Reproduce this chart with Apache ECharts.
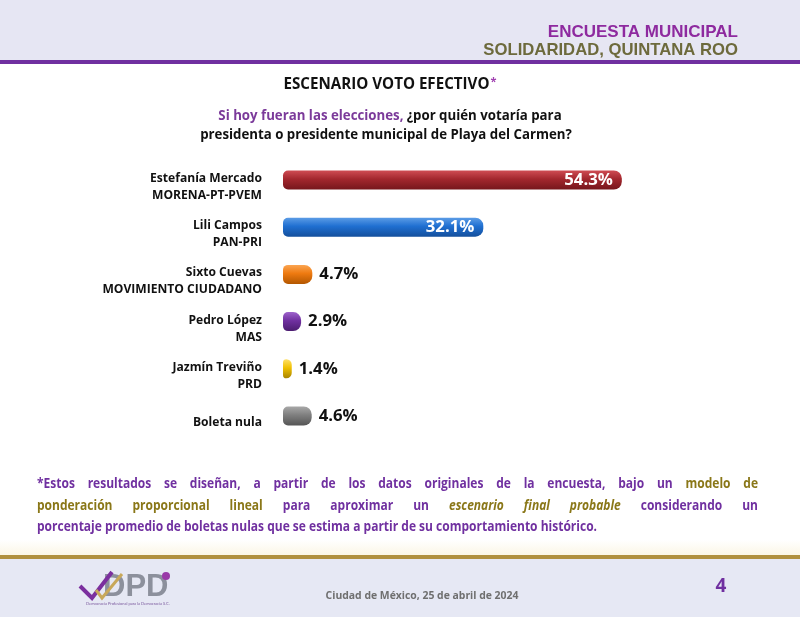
<!DOCTYPE html>
<html><head><meta charset="utf-8">
<script src="https://cdn.jsdelivr.net/npm/echarts@6/dist/echarts.min.js"></script>
<style>html,body{margin:0;padding:0;background:#fff}#c{width:800px;height:617px}</style>
</head><body><div id="c"></div>
<script>
// ---- data ----
const categories = [
  'Estefanía Mercado\nMORENA-PT-PVEM',
  'Lili Campos\nPAN-PRI',
  'Sixto Cuevas\nMOVIMIENTO CIUDADANO',
  'Pedro López\nMAS',
  'Jazmín Treviño\nPRD',
  'Boleta nula'
];
const values = [54.3, 32.1, 4.7, 2.9, 1.4, 4.6];
const headerLines = ['ENCUESTA MUNICIPAL', 'SOLIDARIDAD, QUINTANA ROO'];
const chartTitle = 'ESCENARIO VOTO EFECTIVO';
const questionPurple = 'Si hoy fueran las elecciones,';
const questionRest1 = '¿por quién votaría para';
const questionLine2 = 'presidenta o presidente municipal de Playa del Carmen?';
const footerDate = 'Ciudad de México, 25 de abril de 2024';
const pageNumber = '4';

// ---- styling ----
const barColors = [
  ['#cf4c53', '#a3272e', '#76161c'],
  ['#5b9ce6', '#1f6fd1', '#144f9c'],
  ['#fba552', '#ee7a10', '#b35700'],
  ['#9d62cb', '#7030a0', '#4b1c70'],
  ['#ffe066', '#f0c000', '#a88400'],
  ['#a8a8a8', '#7f7f7f', '#555555']
];
const PURPLE = '#7030a0', OLIVE = '#8a7718';
const FAM = '"Open Sans"';

const mctx = document.createElement('canvas').getContext('2d');
function fontStr(size, it) { return (it ? 'italic ' : '') + 'bold ' + size + 'px ' + FAM; }
function measure(t, size, it) { mctx.font = fontStr(size, it); return mctx.measureText(t).width; }
function fit(t, target) { return +(20 * target / measure(t, 20, false)).toFixed(2); }

const titleSize = fit(chartTitle, 206);
const qSize = fit(questionLine2, 372);
const catSize = fit('MORENA-PT-PVEM', 110);
const valSize = fit('4.7%', 39);
const dateSize = fit(footerDate, 193);

function grad(c) {
  return new echarts.graphic.LinearGradient(0, 0, 0, 1, [
    { offset: 0, color: c[0] }, { offset: 0.45, color: c[1] }, { offset: 1, color: c[2] }
  ]);
}

const chart = echarts.init(document.getElementById('c'), null, { renderer: 'canvas' });

// footnote (justified lines, slightly condensed like the original Calibri)
const footLines = [
  { justify: true, segs: [
    { t: '*Estos resultados se diseñan, a partir de los datos originales de la encuesta, bajo un', c: PURPLE },
    { t: 'modelo de', c: OLIVE } ] },
  { justify: true, segs: [
    { t: 'ponderación proporcional lineal', c: OLIVE },
    { t: 'para aproximar un', c: PURPLE },
    { t: 'escenario final probable', c: OLIVE, it: true },
    { t: 'considerando un', c: PURPLE } ] },
  { justify: false, segs: [
    { t: 'porcentaje promedio de boletas nulas que se estima a partir de su comportamiento histórico.', c: PURPLE } ] }
];
const footY = [484, 506, 527];
const footX0 = 37, footX1 = 758;
const fs = 13.6;
const sx = 560 / measure(footLines[2].segs[0].t, fs, false);
const footEls = [];
footLines.forEach((ln, li) => {
  const words = [];
  ln.segs.forEach(s => s.t.split(' ').forEach(w => words.push({ w, c: s.c, it: !!s.it })));
  const widths = words.map(o => measure(o.w, fs, o.it) * sx);
  const tot = widths.reduce((a, b) => a + b, 0);
  const gap = ln.justify ? (footX1 - footX0 - tot) / (words.length - 1) : measure(' ', fs, false) * sx;
  let x = footX0;
  words.forEach((o, i) => {
    footEls.push({ type: 'text', x: x, y: footY[li], scaleX: sx, silent: true,
      style: { text: o.w, fill: o.c, font: fontStr(fs, o.it), verticalAlign: 'middle' } });
    x += widths[i] + gap;
  });
});

const option = {
  backgroundColor: '#ffffff',
  animation: false,
  grid: { left: 283, top: 156.4, height: 283.2, width: 374.4 },
  xAxis: { type: 'value', min: 0, max: 60, show: false },
  yAxis: {
    type: 'category', inverse: true, data: categories,
    axisLine: { show: false }, axisTick: { show: false },
    axisLabel: {
      interval: 0, margin: 21, align: 'right',
      formatter: v => '{g| }\n' + v.split('\n').map(l => '{a|' + l + '}').join('\n'),
      rich: {
        g: { height: 14, lineHeight: 14, fontSize: 8 },
        a: { color: '#111', fontFamily: 'Open Sans', fontWeight: 'bold', fontSize: catSize, lineHeight: 17, align: 'right' }
      }
    }
  },
  series: [{
    type: 'bar', barWidth: 19,
    data: values.map((v, i) => ({
      value: v,
      itemStyle: { color: grad(barColors[i]), borderRadius: [5, 8, 8, 5] },
      label: v > 20
        ? { position: 'insideRight', color: '#fff', distance: 9 }
        : { position: 'right', color: '#111', distance: 7 }
    })),
    label: { show: true, fontFamily: 'Open Sans', fontWeight: 'bold', fontSize: valSize,
      formatter: p => p.value.toFixed(1) + '%' }
  }],
  graphic: [
    { type: 'rect', shape: { x: 0, y: 0, width: 800, height: 60 }, style: { fill: '#e6e6f3' }, silent: true },
    { type: 'rect', shape: { x: 0, y: 60, width: 800, height: 4 }, style: { fill: '#7030a0' }, silent: true },
    { type: 'text', x: 738, y: 32, style: { text: headerLines[0], fill: '#8e2a9f', font: 'bold 17px "Liberation Sans"', align: 'right', verticalAlign: 'middle' } },
    { type: 'text', x: 738, y: 50, style: { text: headerLines[1], fill: '#6d6a3c', font: 'bold 16.7px "Liberation Sans"', align: 'right', verticalAlign: 'middle' } },
    { type: 'text', x: 390, y: 85, style: {
      text: '{a|' + chartTitle + '}{s|*}', align: 'center', verticalAlign: 'middle', rich: {
        a: { fill: '#111', font: fontStr(titleSize) }, s: { fill: '#a040b0', font: fontStr(11), verticalAlign: 'top', padding: [0, 0, 6, 1] } } } },
    { type: 'text', x: 390, y: 116, style: {
      text: '{p|' + questionPurple + '} {b|' + questionRest1 + '}', align: 'center', verticalAlign: 'middle', rich: {
        p: { fill: '#7b3a9a', font: fontStr(qSize) }, b: { fill: '#111', font: fontStr(qSize) } } } },
    { type: 'text', x: 386, y: 135, style: { text: questionLine2, fill: '#111', font: fontStr(qSize), align: 'center', verticalAlign: 'middle' } },
    ...footEls,
    { type: 'rect', shape: { x: 0, y: 540, width: 800, height: 15 }, style: {
      fill: new echarts.graphic.LinearGradient(0, 0, 0, 1, [{ offset: 0, color: '#ffffff' }, { offset: 1, color: '#fbf6e6' }]) }, silent: true },
    { type: 'rect', shape: { x: 0, y: 555, width: 800, height: 4 }, style: { fill: '#b0903f' }, silent: true },
    { type: 'rect', shape: { x: 0, y: 559, width: 800, height: 58 }, style: { fill: '#e6e8f4' }, silent: true },
    // logo
    { type: 'text', x: 103, y: 587, style: { text: 'DPD', fill: '#8c909c', font: 'bold 31px "Liberation Sans"', verticalAlign: 'middle' } },
    { type: 'polyline', shape: { points: [[80, 586], [92, 598], [112, 572]] }, style: { stroke: '#7b2f9e', lineWidth: 4 }, silent: true },
    { type: 'polyline', shape: { points: [[96, 590], [102, 598], [122, 574]] }, style: { stroke: '#c8a85a', lineWidth: 3 }, silent: true },
    { type: 'circle', shape: { cx: 166, cy: 576, r: 4 }, style: { fill: '#9a3aa8' }, silent: true },
    { type: 'text', x: 86, y: 604, style: { text: 'Democracia Profesional para la Democracia S.C.', fill: '#7b5a9e', font: '4px Lato', verticalAlign: 'middle' } },
    { type: 'text', x: 422, y: 596, style: { text: footerDate, fill: '#6f6f6f', font: fontStr(dateSize), align: 'center', verticalAlign: 'middle' } },
    { type: 'text', x: 721, y: 587, style: { text: pageNumber, fill: '#7030a0', font: fontStr(19), align: 'center', verticalAlign: 'middle' } }
  ]
};
chart.setOption(option);
</script></body></html>
